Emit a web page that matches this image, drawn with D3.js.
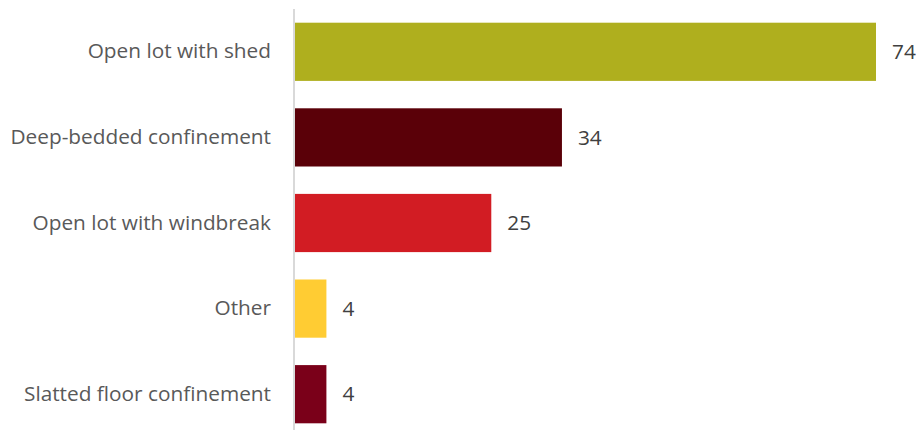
<!DOCTYPE html>
<html>
<head>
<meta charset="utf-8">
<script src="https://cdn.jsdelivr.net/npm/d3@7"></script>
<style>
  html, body { margin: 0; padding: 0; background: #fff; }
  svg { display: block; }
</style>
</head>
<body>
<svg id="chart" width="917" height="430"></svg>
<script>
// Housing types and counts
const categories = [
  "Open lot with shed",
  "Deep-bedded confinement",
  "Open lot with windbreak",
  "Other",
  "Slatted floor confinement"
];
const values = [74, 34, 25, 4, 4];
const colors = ["#afaf1e", "#5a0008", "#d21c23", "#ffcc33", "#7a0019"];

const svg = d3.select("#chart");
const left = 295, right = 876;

const x = d3.scaleLinear().domain([0, 74]).range([left, right]);
const y = d3.scaleBand().domain(categories).range([9, 437])
  .paddingInner(0.32).paddingOuter(0.16);

// bars
svg.selectAll("rect.bar")
  .data(categories)
  .join("rect")
  .attr("class", "bar")
  .attr("x", x(0))
  .attr("y", d => y(d))
  .attr("width", (d, i) => x(values[i]) - x(0))
  .attr("height", y.bandwidth())
  .attr("fill", (d, i) => colors[i]);

// category axis
const yAxis = d3.axisLeft(y).tickSize(0).tickPadding(23);
const ag = svg.append("g").attr("transform", `translate(${left - 1},0)`).call(yAxis);
ag.select(".domain").attr("stroke", "#d9d9d9").attr("stroke-width", 2)
  .attr("d", "M0,9V430");
ag.selectAll("text")
  .attr("fill", "#595959")
  .style("font-family", "'Open Sans', sans-serif")
  .style("font-size", "20.8px");

// value labels
svg.selectAll("text.val")
  .data(categories)
  .join("text")
  .attr("class", "val")
  .attr("x", (d, i) => x(values[i]) + 16)
  .attr("y", d => y(d) + y.bandwidth() / 2)
  .attr("dy", "0.35em")
  .attr("fill", "#404040")
  .style("font-family", "'Open Sans', sans-serif")
  .style("font-size", "20.8px")
  .text((d, i) => values[i]);
</script>
</body>
</html>
